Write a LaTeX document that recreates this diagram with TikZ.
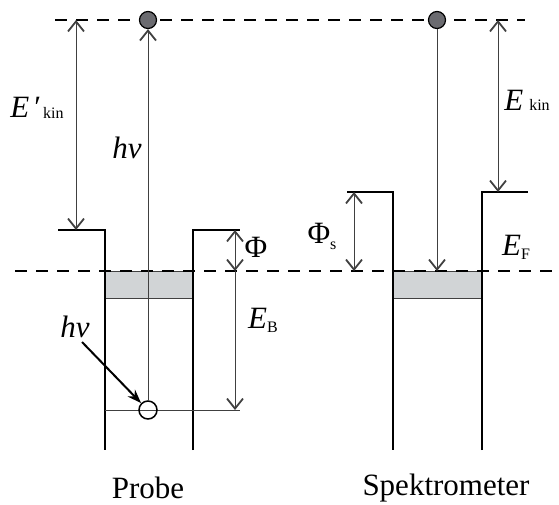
\documentclass[tikz,border=0pt]{standalone}
\usepackage{fontspec}
\setmainfont{Liberation Serif}
\usetikzlibrary{arrows.meta}
\definecolor{bandgray}{rgb}{0.82, 0.83, 0.84}
\definecolor{dotgray}{rgb}{0.42, 0.42, 0.44}
\definecolor{linegray}{rgb}{0.25, 0.25, 0.25}
\newcommand\bigfont{\fontsize{31}{36}\selectfont}
\newcommand\subfont{\fontsize{16}{19}\selectfont}

\tikzset{
  wall/.style={line width=2.6pt, line cap=butt},
  level/.style={line width=2.6pt, dash pattern=on 12pt off 9pt},
  thinline/.style={line width=0.9pt, draw=linegray},
  barb/.tip={Straight Barb[length=10pt, width=16pt, line width=1.8pt]},
  dimboth/.style={thinline, barb-barb},
  dimend/.style={thinline, -barb},
  lbl/.style={font=\bigfont, inner sep=0pt}
}

\begin{document}
\begin{tikzpicture}[x=1pt, y=-1pt]
  \useasboundingbox (0,0) rectangle (559,504);

  % filled bands
  \filldraw[thinline, fill=bandgray] (105,271) rectangle (193,298);
  \filldraw[thinline, fill=bandgray] (393,271) rectangle (482,298);

  % levels
  \draw[level] (55,20) -- (525,20);
  \draw[level] (15,271) -- (559,271);

  % Probe
  \draw[wall] (58,230) -- (105,230) -- (105,450);
  \draw[wall] (193,450) -- (193,230) -- (240,230);
  % Spektrometer
  \draw[wall] (347,192) -- (393,192) -- (393,450);
  \draw[wall] (482,450) -- (482,192) -- (528,192);

  % electrons
  \node[circle, draw, fill=dotgray, line width=1.2pt, minimum size=17pt, inner sep=0pt] (eprobe) at (148,20) {};
  \node[circle, draw, fill=dotgray, line width=1.2pt, minimum size=17pt, inner sep=0pt] (espek) at (437,20) {};
  \draw[thinline] (105,410) -- (240,410);
  \node[circle, draw, line width=1.5pt, minimum size=18pt, inner sep=0pt] (hole) at (148,410) {};

  % coordinates
  \coordinate (ekTop) at (76,20);
  \coordinate (ekBot) at (76,230);
  \coordinate (phiTop) at (235,230);
  \coordinate (phiBot) at (235,271);
  \coordinate (ebBot) at (235,410);
  \coordinate (phisTop) at (354,192);
  \coordinate (phisBot) at (354,271);
  \coordinate (eFspek) at (437,271);
  \coordinate (ekinTop) at (498,20);
  \coordinate (ekinBot) at (498,192);
  \coordinate (hvStart) at (82,342);

  % arrows
  \draw[dimboth] (ekTop) -- (ekBot);
  \draw[dimend] (hole.north) -- (eprobe.south);
  \draw[dimboth] (phiTop) -- (phiBot);
  \draw[dimend] (phiBot) -- (ebBot);
  \draw[line width=2pt, -{Stealth[length=14pt, width=10pt]}] (hvStart) -- (hole.north west);
  \draw[dimboth] (phisTop) -- (phisBot);
  \draw[dimend] (espek.south) -- (eFspek);
  \draw[dimboth] (ekinTop) -- (ekinBot);

  % labels
  \node[lbl] (ekinp) at (37,108) {\textit{E}\,′\hspace{2pt}\raisebox{-1pt}{\subfont kin}};
  \node[lbl] (hvtop) at (127,148) {\textit{hv}};
  \node[lbl] (hvlow) at (75,327) {\textit{hv}};
  \node[lbl] (phi) at (256,247) {Φ};
  \node[lbl] (eb) at (263,320) {\textit{E}\raisebox{-4pt}{\subfont B}};
  \node[lbl] (phis) at (322,236) {Φ\raisebox{-6pt}{\subfont s}};
  \node[lbl] (ekin) at (527,100) {\textit{E}\hspace{6pt}{\subfont kin}};
  \node[lbl] (ef) at (516,247) {\textit{E}\raisebox{-4pt}{\subfont F}};
  \node[lbl] (probe) at (148,488) {Probe};
  \node[lbl] (spek) at (446,488) {Spektrometer};
\end{tikzpicture}
\end{document}
